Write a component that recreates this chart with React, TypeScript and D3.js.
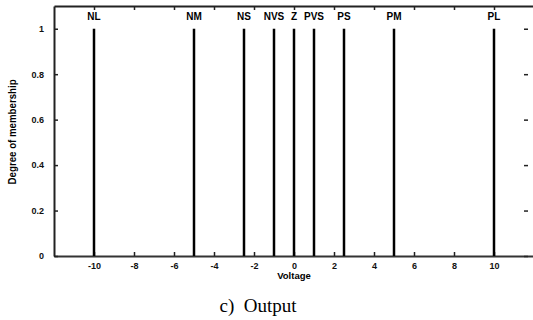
import React, { useEffect, useRef } from 'react';
import * as d3 from 'd3';

// membership function centres (singletons) of the output
const labels = ['NL', 'NM', 'NS', 'NVS', 'Z', 'PVS', 'PS', 'PM', 'PL'];
const centres = [-10, -5, -2.5, -1, 0, 1, 2.5, 5, 10];
const heights = [1, 1, 1, 1, 1, 1, 1, 1, 1];
const xTicks = [-10, -8, -6, -4, -2, 0, 2, 4, 6, 8, 10];
const yTicks = [0, 0.2, 0.4, 0.6, 0.8, 1];

const W = 533;
const H = 320;

const App: React.FC = () => {
  const svgRef = useRef<SVGSVGElement | null>(null);

  useEffect(() => {
    if (!svgRef.current) return;
    const margin = { top: 6, right: -1, bottom: 64, left: 54 };
    const width = W - margin.left - margin.right;
    const height = H - margin.top - margin.bottom;

    d3.select(svgRef.current).selectAll('*').remove();

    const svg = d3.select(svgRef.current)
      .attr('width', W)
      .attr('height', H)
      .append('g')
      .attr('transform', `translate(${margin.left},${margin.top})`);

    const x = d3.scaleLinear().domain([-12, 12]).range([0, width]);
    const y = d3.scaleLinear().domain([0, 1.1]).range([height, 0]);

    const font = 'Liberation Sans, Arial, sans-serif';

    // bottom axis
    const xAxis = svg.append('g')
      .attr('transform', `translate(0,${height})`)
      .call(d3.axisBottom(x).tickValues(xTicks).tickSizeInner(-4).tickSizeOuter(0).tickPadding(7).tickFormat(d => String(d)));
    xAxis.select('.domain').attr('stroke', '#333').attr('stroke-width', 2);
    xAxis.selectAll('.tick line').attr('stroke', '#222').attr('stroke-width', 1.5);
    xAxis.selectAll('text')
      .style('font-family', font)
      .style('font-weight', 'bold')
      .style('font-size', '9px')
      .attr('fill', '#111');

    // top axis (ticks only)
    const topAxis = svg.append('g')
      .call(d3.axisTop(x).tickValues(xTicks).tickSizeInner(-4).tickSizeOuter(0).tickFormat(() => ''));
    topAxis.select('.domain').attr('stroke', '#222').attr('stroke-width', 2);
    topAxis.selectAll('.tick line').attr('stroke', '#222').attr('stroke-width', 1.5);

    // left axis
    const yAxis = svg.append('g')
      .call(d3.axisLeft(y).tickValues(yTicks).tickSizeInner(-4).tickSizeOuter(0).tickPadding(10).tickFormat(d => String(d)));
    yAxis.select('.domain').attr('stroke', '#222').attr('stroke-width', 2);
    yAxis.selectAll('.tick line').attr('stroke', '#222').attr('stroke-width', 1.5);
    yAxis.selectAll('text')
      .style('font-family', font)
      .style('font-weight', 'bold')
      .style('font-size', '9px')
      .attr('fill', '#111');

    // right axis (ticks only, frame edge is cropped)
    const rightAxis = svg.append('g')
      .attr('transform', `translate(${x(11.7)},0)`)
      .call(d3.axisRight(y).tickValues(yTicks).tickSizeInner(-4).tickSizeOuter(0).tickFormat(() => ''));
    rightAxis.select('.domain').remove();
    rightAxis.selectAll('.tick line').attr('stroke', '#222').attr('stroke-width', 1.5);

    // singleton lines
    const mf = centres.map((c, i) => ({ c, h: heights[i], label: labels[i] }));
    svg.selectAll('.mf')
      .data(mf)
      .enter().append('line')
      .attr('class', 'mf')
      .attr('x1', d => x(d.c))
      .attr('x2', d => x(d.c))
      .attr('y1', y(0))
      .attr('y2', d => y(d.h))
      .attr('stroke', '#000')
      .attr('stroke-width', 2.5);

    svg.selectAll('.mf-label')
      .data(mf)
      .enter().append('text')
      .attr('class', 'mf-label')
      .attr('x', d => x(d.c))
      .attr('y', d => y(d.h) - 9)
      .attr('text-anchor', 'middle')
      .style('font-family', font)
      .style('font-weight', 'bold')
      .style('font-size', '10px')
      .text(d => d.label);

    // axis labels
    svg.append('text')
      .attr('text-anchor', 'middle')
      .attr('x', x(0))
      .attr('y', height + 23)
      .style('font-family', font)
      .style('font-weight', 'bold')
      .style('font-size', '9.5px')
      .text('Voltage');

    svg.append('text')
      .attr('text-anchor', 'middle')
      .attr('transform', 'rotate(-90)')
      .attr('x', -y(0.546))
      .attr('y', -margin.left + 16)
      .attr('textLength', 105)
      .attr('lengthAdjust', 'spacingAndGlyphs')
      .style('font-family', font)
      .style('font-weight', 'bold')
      .style('font-size', '11px')
      .text('Degree of membership');

    // caption
    d3.select(svgRef.current).append('text')
      .attr('text-anchor', 'middle')
      .attr('x', 258)
      .attr('y', 312)
      .style('font-family', 'Liberation Serif, Times New Roman, serif')
      .style('font-size', '19px')
      .style('white-space', 'pre')
      .text('c)  Output');
  }, []);

  return (
    <div style={{ position: 'absolute', left: 0, top: 0, width: W, height: H, background: '#fff' }}>
      <svg ref={svgRef} style={{ display: 'block' }} />
    </div>
  );
};

export default App;
